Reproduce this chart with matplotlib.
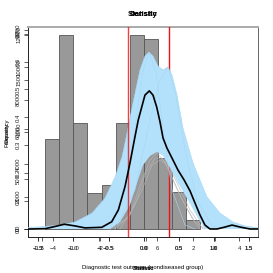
import numpy as np
import matplotlib
matplotlib.use('Agg')
import matplotlib.pyplot as plt

plt.rcParams['font.family'] = ['Liberation Sans', 'DejaVu Sans']

# histogram of the nondiseased outcomes
BIN_LEFT  = [-1.4, -1.2, -1.0, -0.8, -0.6, -0.4, -0.2, 0.0, 0.2, 0.4, 0.6]
BIN_FREQ  = [5550, 12000, 6550, 2250, 2700, 6550, 12000, 11750, 4400, 2300, 550]
BIN_WIDTH = 0.2

# estimated density (black)
DENS_X = [-1.646, -1.589, -1.404, -1.262, -1.129, -0.977, -0.835, -0.597, -0.455, -0.361,
          -0.266, -0.195, -0.124, -0.077, -0.028, 0.018, 0.080, 0.132, 0.185, 0.232,
          0.275, 0.331, 0.403, 0.488, 0.574, 0.660, 0.730, 0.801, 0.872, 0.943,
          1.043, 1.156, 1.256, 1.370, 1.512, 1.626]
DENS_Y = [0.000, 0.000, 0.001, 0.009, 0.017, 0.011, 0.004, 0.006, 0.026, 0.068,
          0.152, 0.237, 0.331, 0.391, 0.437, 0.480, 0.495, 0.480, 0.437, 0.384,
          0.326, 0.290, 0.254, 0.211, 0.176, 0.136, 0.093, 0.050, 0.014, 0.000,
          0.000, 0.007, 0.014, 0.007, 0.000, 0.000]

# bootstrap density band (light blue): outer and inner envelope
OUTER_X = [-1.646, -1.404, -1.191, -0.977, -0.735, -0.550, -0.408, -0.309, -0.252, -0.152,
           -0.053, 0.018, 0.075, 0.132, 0.203, 0.275, 0.346, 0.403, 0.474, 0.559,
           0.701, 0.900, 1.085, 1.270, 1.441, 1.626]
OUTER_Y = [0.005, 0.009, 0.014, 0.025, 0.057, 0.111, 0.186, 0.258, 0.326, 0.452,
           0.570, 0.620, 0.634, 0.620, 0.584, 0.570, 0.581, 0.552, 0.480, 0.362,
           0.237, 0.115, 0.057, 0.025, 0.011, 0.004]
INNER_X = [-0.479, -0.337, -0.195, -0.081, -0.010, 0.090, 0.189, 0.275, 0.374, 0.488,
           0.630, 0.772, 0.872]
INNER_Y = [0.0, 0.025, 0.086, 0.176, 0.229, 0.262, 0.276, 0.262, 0.219, 0.165,
           0.104, 0.039, 0.0]

# a few single bootstrap curves
BOOT1_X = [-0.479, -0.266, -0.124, -0.024, 0.075, 0.175, 0.275, 0.403, 0.587, 0.729]
BOOT1_Y = [0.0, 0.140, 0.355, 0.552, 0.634, 0.563, 0.355, 0.140, 0.014, 0.0]
BOOT2_X = [-0.408, -0.124, 0.090, 0.232, 0.346, 0.459, 0.587, 0.758, 0.972, 1.157]
BOOT2_Y = [0.0, 0.140, 0.391, 0.534, 0.581, 0.480, 0.283, 0.104, 0.011, 0.0]

# grey curves of the other panel
GREY1_X = [-0.408, -0.195, -0.053, 0.090, 0.189, 0.303, 0.445, 0.587, 0.730, 0.872]
GREY1_Y = [0.0, 0.050, 0.158, 0.247, 0.272, 0.240, 0.158, 0.086, 0.025, 0.0]
GREY2_X = [-0.337, -0.124, 0.018, 0.161, 0.260, 0.374, 0.516, 0.687, 0.801]
GREY2_Y = [0.0, 0.086, 0.194, 0.254, 0.254, 0.204, 0.122, 0.039, 0.0]
GREY3_X = [-0.479, -0.223, -0.024, 0.118, 0.232, 0.346, 0.488, 0.659, 0.844]
GREY3_Y = [0.0, 0.039, 0.140, 0.229, 0.247, 0.229, 0.158, 0.068, 0.0]

# cut-offs
CUTS = [-0.219, 0.364]

# axis ticks of the overlaid panels
XT_OUTCOME = [-1.5, -1.0, -0.5, 0.0, 0.5, 1.0, 1.5]
XT_STAT    = [-4, -2, 0, 2, 4]
XT_THIRD   = [2, 4, 6, 8]
YT_FREQ    = [0, 2000, 4000, 6000, 8000, 10000, 12000]
YT_DENS    = [0.0, 0.1, 0.2, 0.3, 0.4, 0.5, 0.6, 0.7]
YT_THIRD   = [0, 500, 1000, 1500, 2000]

FS = 4.3
W = H = 273
rect = [28 / W, 36 / H, 230 / W, 210 / H]

fig = plt.figure(figsize=(2.73, 2.73), dpi=100)

def make_axes(xlim, ylim, z):
    a = fig.add_axes(rect, zorder=z)
    a.set_xlim(*xlim)
    a.set_ylim(*ylim)
    a.patch.set_visible(False)
    for s in a.spines.values():
        s.set_visible(False)
    a.tick_params(length=3, width=0.5, pad=2, labelsize=FS, colors='#222222')
    a.tick_params(axis='x', pad=3.5)
    return a

ax_h = make_axes((-1.646, 1.626), (-495, 12494), 1)
ax_d = make_axes((-1.646, 1.626), (-0.0287, 0.724), 2)
ax_s = make_axes((-5.077, 4.794), (-80, 2028), 0)
ax_t = make_axes((1.53, 9.5), (-0.0287, 0.724), 0)

# histogram
ax_h.bar(BIN_LEFT, BIN_FREQ, width=BIN_WIDTH, align='edge', color='#999999',
         edgecolor='#555555', linewidth=0.6)
ax_h.axvline(CUTS[1], color='#ee1111', lw=1.0, zorder=3)

# density band and curves
outline_x = OUTER_X + [OUTER_X[-1], INNER_X[-1]] + INNER_X[::-1] + [OUTER_X[0]]
outline_y = OUTER_Y + [0.0, 0.0] + INNER_Y[::-1] + [0.0]
ax_d.fill(outline_x, outline_y, color='#b3e0fa', lw=0, zorder=1)
for gx, gy in [(GREY1_X, GREY1_Y), (GREY2_X, GREY2_Y), (GREY3_X, GREY3_Y)]:
    ax_d.plot(gx, gy, color='#b8b8b8', lw=0.4, zorder=2)
for bx, by in [(BOOT1_X, BOOT1_Y), (BOOT2_X, BOOT2_Y), (OUTER_X, OUTER_Y)]:
    ax_d.plot(bx, by, color='#a6d8f5', lw=0.4, zorder=2)
ax_d.axvline(CUTS[0], color='#ee1111', lw=1.0, alpha=0.8, zorder=3)
ax_d.plot(DENS_X, DENS_Y, color='black', lw=1.2, zorder=4)

# frame
for side, col, lw in [('left', '#222222', 0.7), ('bottom', '#222222', 0.7),
                      ('right', '#666666', 0.7), ('top', '#aaaaaa', 1.4)]:
    ax_h.spines[side].set_visible(True)
    ax_h.spines[side].set_color(col)
    ax_h.spines[side].set_linewidth(lw)

# ticks
ax_h.set_xticks(XT_OUTCOME)
ax_h.set_xticklabels(['%.1f' % v for v in XT_OUTCOME])
ax_s.set_xticks(XT_STAT)
ax_t.set_xticks(XT_THIRD)
ax_h.set_yticks(YT_FREQ)
ax_d.set_yticks(YT_DENS)
ax_d.set_yticklabels(['%.1f' % v for v in YT_DENS])
ax_s.set_yticks(YT_THIRD)
ax_t.set_yticks([])
for a in [ax_h, ax_d, ax_s]:
    for t in a.get_yticklabels():
        t.set_rotation(90)
        t.set_va('center')

# overlaid titles and labels
for txt in ['Statistic', 'Density']:
    fig.text(143 / W, 1 - 14 / H, txt, ha='center', va='center', fontsize=5.5,
             fontweight='bold')
for txt in ['Frequency', 'Density']:
    fig.text(7 / W, 1 - 133 / H, txt, ha='center', va='center', fontsize=FS,
             rotation=90)
for txt in ['Diagnostic test outcome (nondiseased group)', 'Statistic', 'Statistic']:
    fig.text(143 / W, 1 - 268 / H, txt, ha='center', va='center', fontsize=FS)

fig.savefig('out.png', dpi=100)
